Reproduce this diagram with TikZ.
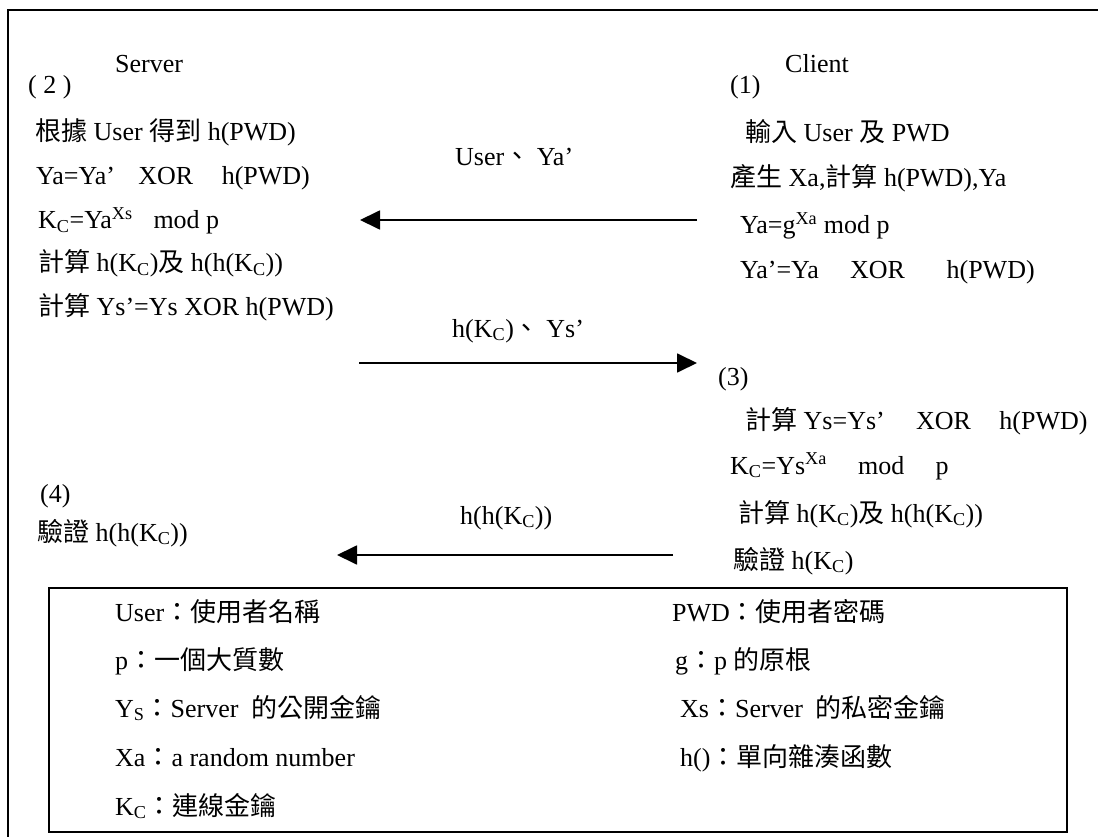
\documentclass[tikz,border=0pt]{standalone}
\usepackage{fontspec}
\setmainfont{Liberation Serif}
\newfontfamily\cjkf{Noto Sans CJK TC}
\newcommand\zh[1]{{\cjkf #1}}
\newcommand\sub[1]{\textsubscript{#1}}
\newcommand\sups[1]{\textsuperscript{#1}}
\usetikzlibrary{arrows.meta}
\begin{document}
\begin{tikzpicture}[x=1pt,y=-1pt,
  txt/.style={anchor=base west, inner sep=0pt, font=\fontsize{26}{30}\selectfont},
  frameline/.style={line width=2pt, black},
  msg/.style={line width=1.8pt, -{Triangle[length=20pt,width=19pt]}}]
\useasboundingbox (0,0) rectangle (1098,837);
% outer frame (top and left edges)
\coordinate (fTR) at (1098,10);
\coordinate (fTL) at (8,10);
\coordinate (fBL) at (8,837);
\draw[frameline] (fTR) -- (fTL) -- (fBL);
% server side
\node[txt] (server) at (115,73) {Server};
\node[txt] (s2) at (28,94) {( 2 )};
\node[txt] (s2a) at (35,141) {\zh{根據} User \zh{得到} h(PWD)};
\node[txt] (s2b) at (36,185) {Ya=Ya’\hspace{0.9em}XOR\hspace{1.1em}h(PWD)};
\node[txt] (s2c) at (38,229) {K\sub{C}=Ya\sups{Xs}\hspace{0.8em}mod p};
\node[txt] (s2d) at (38,272) {\zh{計算} h(K\sub{C})\zh{及} h(h(K\sub{C}))};
\node[txt] (s2e) at (38,315) {\zh{計算} Ys’=Ys XOR h(PWD)};
\node[txt] (s4) at (40,502) {(4)};
\node[txt] (s4a) at (37,541) {\zh{驗證} h(h(K\sub{C}))};
% client side
\node[txt] (client) at (785,73) {Client};
\node[txt] (c1) at (730,94) {(1)};
\node[txt] (c1a) at (745,142) {\zh{輸入} User \zh{及} PWD};
\node[txt] (c1b) at (730,187) {\zh{產生} Xa,\zh{計算} h(PWD),Ya};
\node[txt] (c1c) at (740,234) {Ya=g\sups{Xa} mod p};
\node[txt] (c1d) at (740,279) {Ya’=Ya\hspace{1.2em}XOR\hspace{1.6em}h(PWD)};
\node[txt] (c3) at (718,385) {(3)};
\node[txt] (c3a) at (745,429) {\zh{計算} Ys=Ys’\hspace{1.2em}XOR\hspace{1.1em}h(PWD)};
\node[txt] (c3b) at (730,474) {K\sub{C}=Ys\sups{Xa}\hspace{1.2em}mod\hspace{1.2em}p};
\node[txt] (c3c) at (738,522) {\zh{計算} h(K\sub{C})\zh{及} h(h(K\sub{C}))};
\node[txt] (c3d) at (733,569) {\zh{驗證} h(K\sub{C})};
% messages
\node[txt] (m1) at (455,166) {User\zh{、} Ya’};
\node[txt] (m2) at (452,337) {h(K\sub{C})\zh{、} Ys’};
\node[txt] (m3) at (460,524) {h(h(K\sub{C}))};
\coordinate (a1s) at (697,220);
\coordinate (a1e) at (360,220);
\coordinate (a2s) at (359,363);
\coordinate (a2e) at (697,363);
\coordinate (a3s) at (673,555);
\coordinate (a3e) at (337,555);
\draw[msg] (a1s) -- (a1e);
\draw[msg] (a2s) -- (a2e);
\draw[msg] (a3s) -- (a3e);
% legend box
\node[draw, line width=2pt, inner sep=0pt, minimum width=1018pt, minimum height=244pt, anchor=north west] (legend) at (48,587) {};
\node[txt] (l1) at (115,621) {User\zh{：使用者名稱}};
\node[txt] (l2) at (115,669) {p\zh{：一個大質數}};
\node[txt] (l3) at (115,717) {Y\sub{S}\zh{：}Server\ \ \zh{的公開金鑰}};
\node[txt] (l4) at (115,766) {Xa\zh{：}a random number};
\node[txt] (l5) at (115,815) {K\sub{C}\zh{：連線金鑰}};
\node[txt] (r1) at (672,621) {PWD\zh{：使用者密碼}};
\node[txt] (r2) at (675,669) {g\zh{：}p \zh{的原根}};
\node[txt] (r3) at (680,717) {Xs\zh{：}Server\ \ \zh{的私密金鑰}};
\node[txt] (r4) at (680,766) {h()\zh{：單向雜湊函數}};
\end{tikzpicture}
\end{document}
